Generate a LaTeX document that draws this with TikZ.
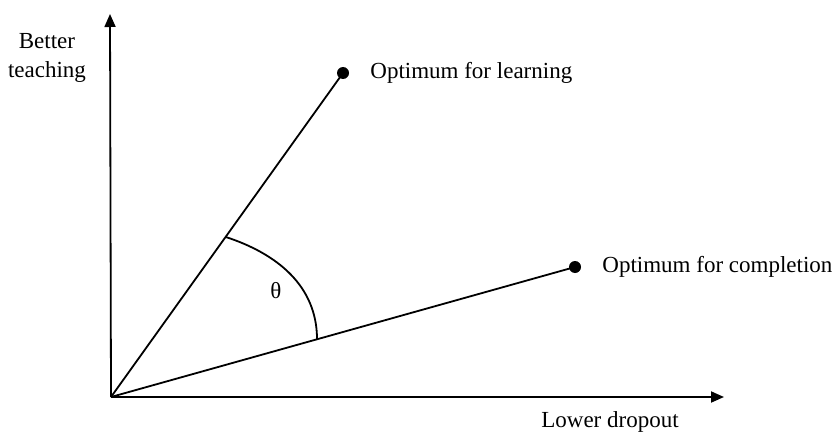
\documentclass[tikz,border=0pt]{standalone}
\usepackage{fontspec}
\setmainfont{Liberation Serif}
\usetikzlibrary{arrows.meta,positioning,calc}

\begin{document}
\begin{tikzpicture}[x=1pt, y=1pt,
  ax/.style={-{Triangle[length=13pt, width=11pt]}, line width=1.8pt},
  ray/.style={line width=1.8pt},
  opt/.style={circle, fill=black, inner sep=0pt, minimum size=12pt},
  lab/.style={font=\fontsize{23}{29}\selectfont, align=center, inner sep=0pt}]
\useasboundingbox (0,0) rectangle (840,432);
\coordinate (o) at (111,35);
\coordinate (ytip) at (110,418);
\coordinate (xtip) at (724,35);
\node[opt] (learn) at (343,359) {};
\node[opt] (compl) at (575,165) {};
\draw[ax] (o) -- (ytip);
\draw[ax] (o) -- (xtip);
\draw[ray] (o) -- (learn.center);
\draw[ray] (o) -- (compl.center);
% angle between the two optima
\coordinate (arcA) at ($(o)!0.494!(learn)$);
\coordinate (arcB) at ($(o)!0.444!(compl)$);
\draw[ray] (arcA) to[out=-18, in=90] (arcB);
\node[lab] (theta) at (276,141) {θ};
\node[lab, right=21pt of learn] (lbllearn) {Optimum for learning};
\node[lab, right=21pt of compl] (lblcompl) {Optimum for completion};
\node[lab] (ylab) at (47,374) {Better\\teaching};
\node[lab] (xlab) at (610,10) {Lower dropout};
\end{tikzpicture}
\end{document}
